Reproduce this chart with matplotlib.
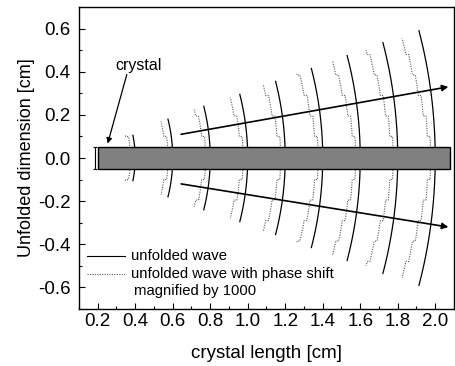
import numpy as np
import matplotlib
matplotlib.use("Agg")
import matplotlib.pyplot as plt
from matplotlib.patches import Rectangle

plt.rcParams['font.family'] = ['Liberation Sans', 'DejaVu Sans']

# wavefronts: x position at y=0, top (= -bottom) extent of solid and dotted curves
arc_x = [0.4, 0.6, 0.8, 1.0, 1.2, 1.4, 1.6, 1.8, 2.0]
arc_top = [0.105, 0.18, 0.24, 0.295, 0.355, 0.415, 0.475, 0.535, 0.59]
dot_top = [0.105, 0.17, 0.225, 0.28, 0.34, 0.39, 0.45, 0.50, 0.555]
arc_cx = -0.05                       # centre of curvature of the wavefronts
step_y = [0.1, 0.195, 0.29, 0.385, 0.48]   # bounce positions (steps of dotted curve)
shift0 = 0.025                       # base phase shift (x1000)
shift_step = 0.015                   # extra shift per bounce

crystal_x = [0.2, 2.08]
crystal_h = 0.05

arrow_up = [(0.645, 0.11), (2.07, 0.33)]
arrow_dn = [(0.645, -0.12), (2.07, -0.32)]

fig = plt.figure(figsize=(4.56, 3.66), dpi=100)
ax = fig.add_axes([0.1732, 0.1557, 0.8224, 0.8251])


def arc_x_of(x0, y):
    r = x0 - arc_cx
    return arc_cx + np.sqrt(r ** 2 - y ** 2)


for x0, top, dtop in zip(arc_x, arc_top, dot_top):
    y = np.linspace(-top, top, 200)
    ax.plot(arc_x_of(x0, y), y, color='k', lw=0.9, zorder=2)

    # dotted staircase: arc shifted left, extra shift at each bounce
    for sgn in (1, -1):
        bounds = [0.0] + [s for s in step_y if s < dtop] + [dtop]
        xs, ys = [], []
        for k in range(len(bounds) - 1):
            yy = np.linspace(bounds[k], bounds[k + 1], 20)
            xs.extend(arc_x_of(x0, yy) - shift0 - shift_step * k)
            ys.extend(sgn * yy)
        ax.plot(xs, ys, color='#5a5a5a', lw=0.8, ls=(0, (1, 1.2)), zorder=2)

ax.add_patch(Rectangle((crystal_x[0], -crystal_h), crystal_x[1] - crystal_x[0],
                       2 * crystal_h, facecolor='#808080', edgecolor='k',
                       lw=1.0, zorder=3))
ax.errorbar([0.188], [0], yerr=[crystal_h], color='k', lw=0.8, capsize=1.5,
            capthick=0.8, zorder=3)

for a in (arrow_up, arrow_dn):
    ax.annotate('', xy=a[1], xytext=a[0],
                arrowprops=dict(arrowstyle='-|>', color='k', lw=1.2,
                                mutation_scale=9, shrinkA=0, shrinkB=0),
                zorder=4)

ax.text(0.42, 0.41, 'crystal', fontsize=11.5, ha='center', va='baseline')
ax.annotate('', xy=(0.253, 0.067), xytext=(0.355, 0.387),
            arrowprops=dict(arrowstyle='-|>', color='k', lw=0.9,
                            mutation_scale=8, shrinkA=0, shrinkB=0))

# legend
ax.plot([0.0205, 0.1227], [0.174, 0.174], color='k', lw=0.8,
        transform=ax.transAxes)
ax.plot([0.0205, 0.1227], [0.116, 0.116], color='#5a5a5a', lw=0.8,
        ls=(0, (1, 1.2)), transform=ax.transAxes)
ax.text(0.138, 0.174, 'unfolded wave', fontsize=10.7, va='center',
        transform=ax.transAxes)
ax.text(0.138, 0.116, 'unfolded wave with phase shift', fontsize=10.7,
        va='center', transform=ax.transAxes)
ax.text(0.147, 0.058, 'magnified by 1000', fontsize=10.7, va='center',
        transform=ax.transAxes)

ax.set_xlim(0.1, 2.1)
ax.set_ylim(-0.7, 0.7)
ax.set_xticks(np.arange(0.2, 2.01, 0.2))
ax.set_xticks(np.arange(0.1, 2.1, 0.2), minor=True)
ax.set_yticks(np.arange(-0.6, 0.61, 0.2))
ax.set_yticks(np.arange(-0.7, 0.71, 0.2), minor=True)
ax.xaxis.set_major_formatter(matplotlib.ticker.FormatStrFormatter('%.1f'))
ax.yaxis.set_major_formatter(matplotlib.ticker.FormatStrFormatter('%.1f'))
ax.tick_params(which='both', direction='in', top=False, right=False,
               labelsize=13.5)
ax.tick_params(which='major', length=4.5, width=0.8)
ax.tick_params(which='minor', length=2.5, width=0.8)
ax.tick_params(axis='x', pad=3)
ax.tick_params(axis='y', pad=6)
for sp in ax.spines.values():
    sp.set_linewidth(1.0)

ax.set_xlabel('crystal length [cm]', fontsize=13.5, labelpad=11)
ax.set_ylabel('Unfolded dimension [cm]', fontsize=13, labelpad=2)

fig.savefig('out.png', dpi=100)
